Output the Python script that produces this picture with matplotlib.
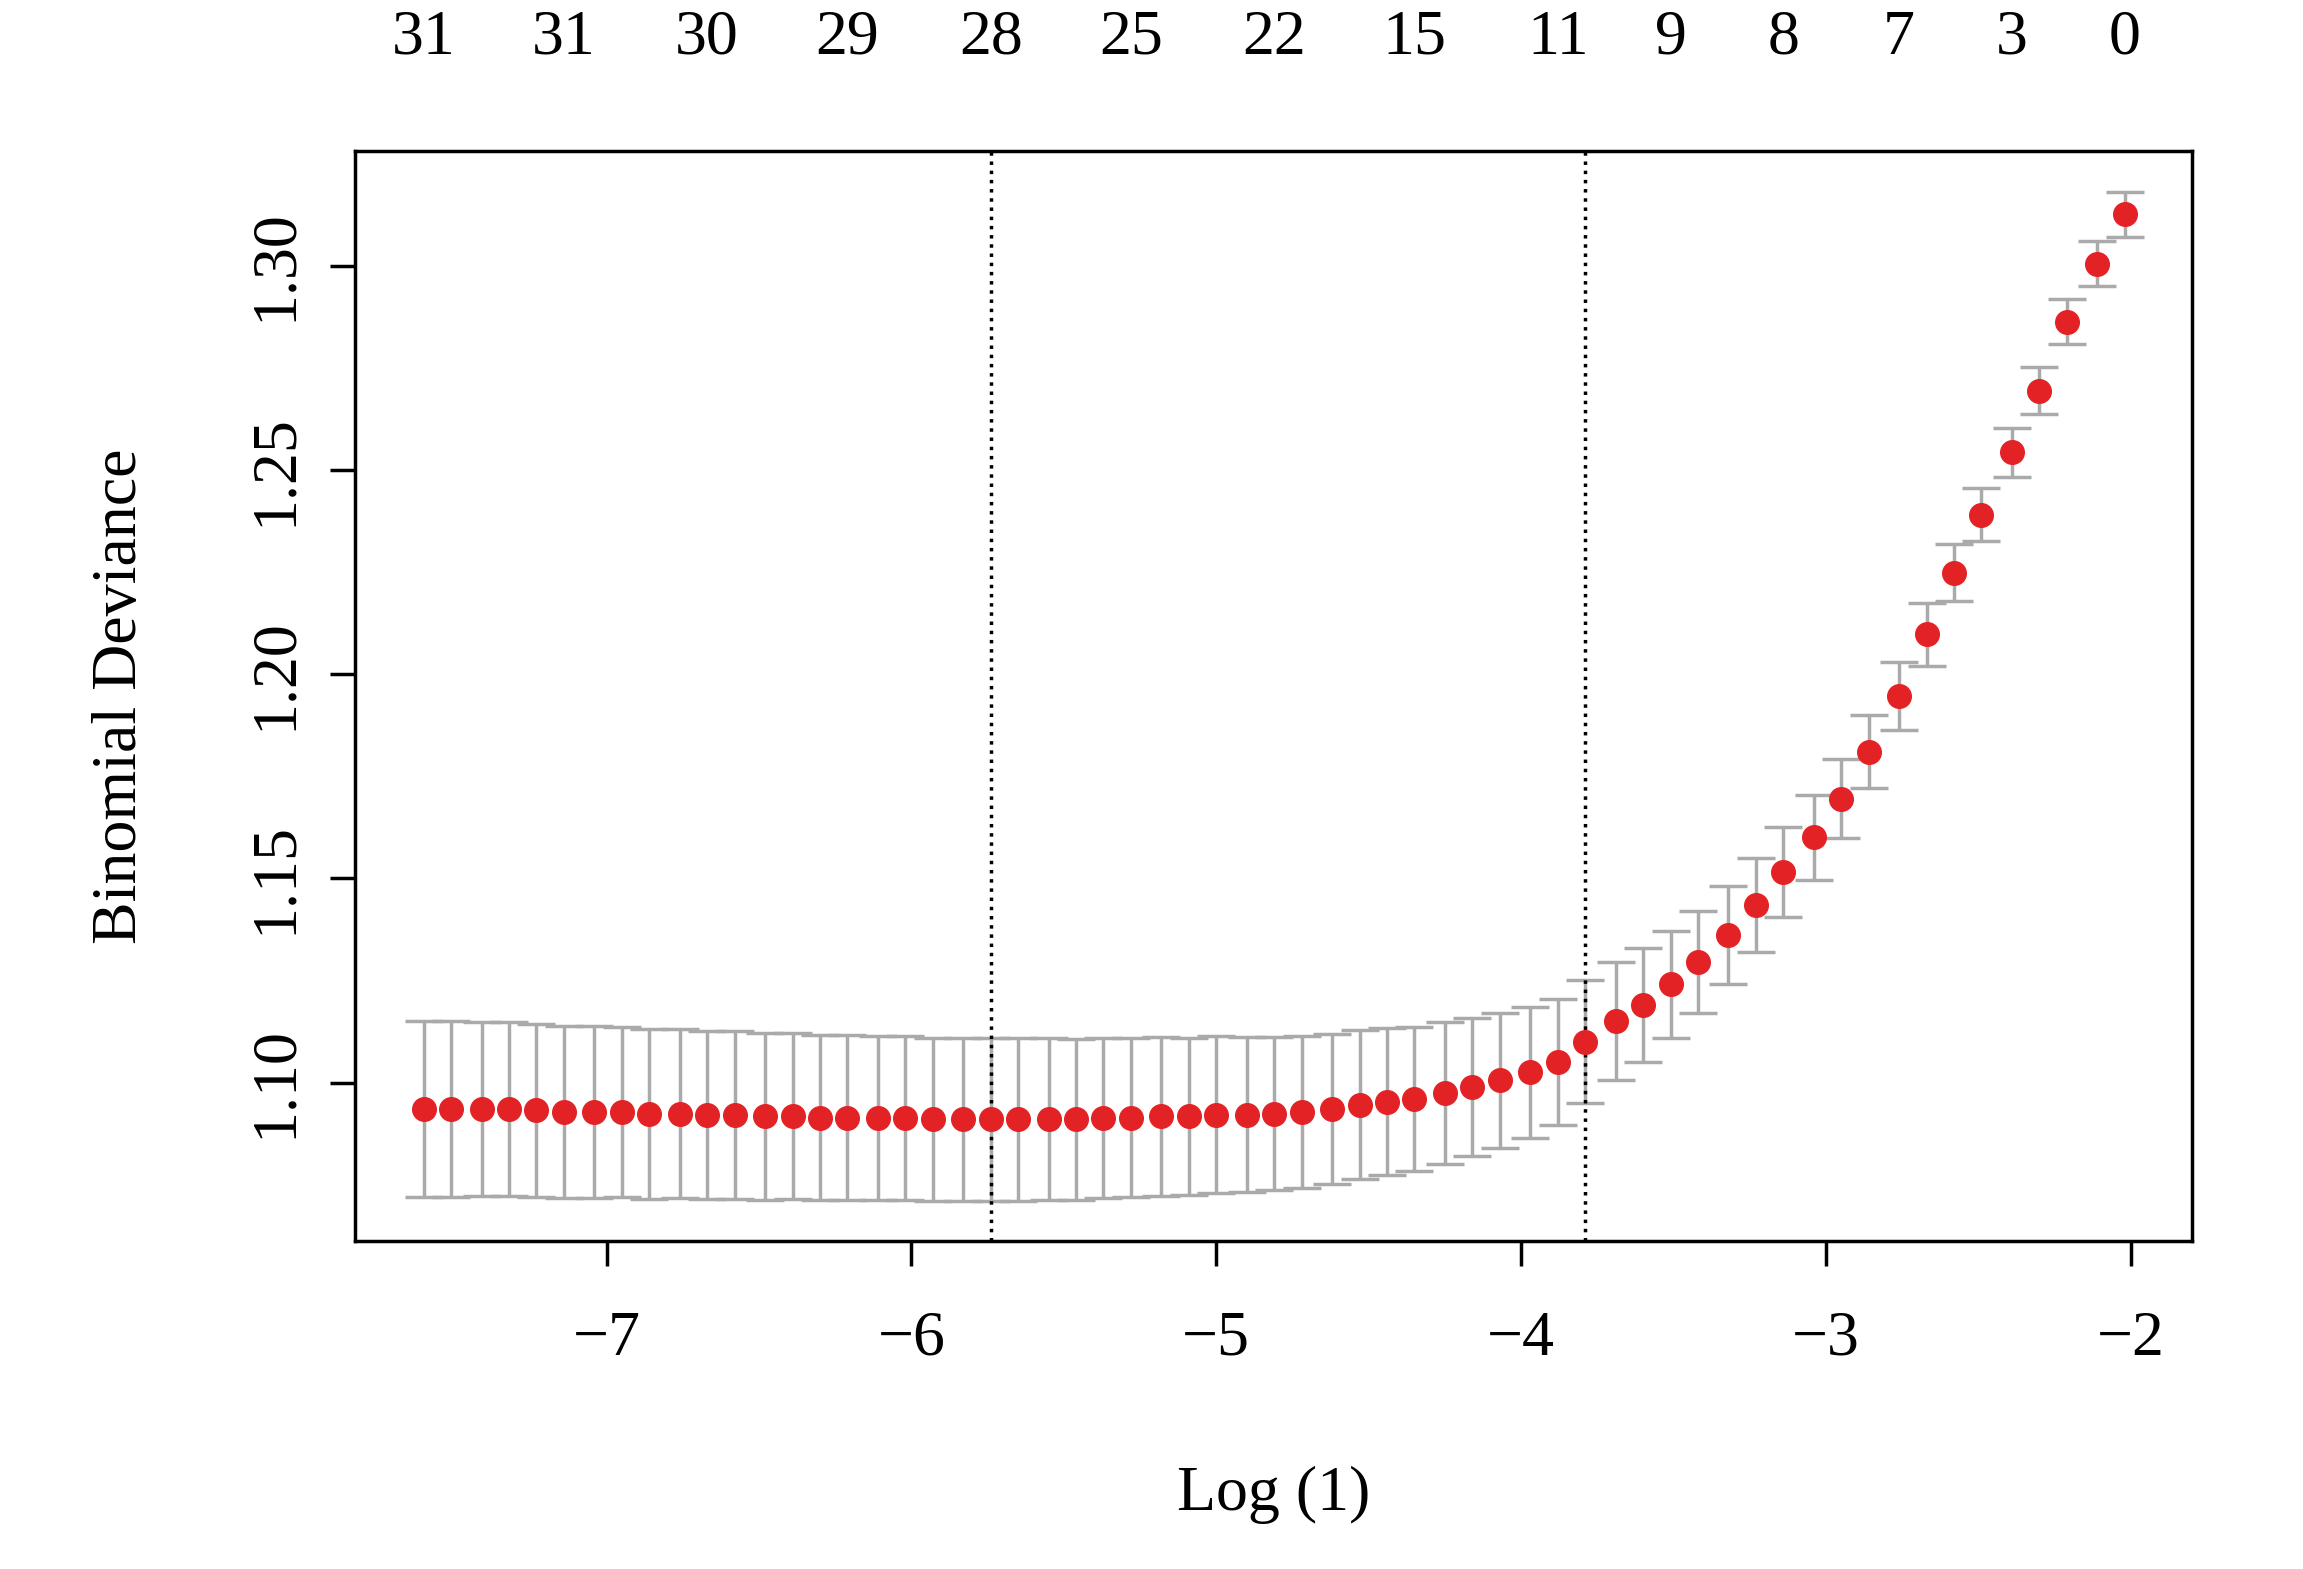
import matplotlib.pyplot as plt

plt.rcParams['font.family'] = ['Liberation Serif', 'DejaVu Serif']

log_lambda = [-7.60, -7.51, -7.41, -7.32, -7.23, -7.14, -7.04, -6.95, -6.86, -6.76,
              -6.67, -6.58, -6.48, -6.39, -6.30, -6.21, -6.11, -6.02, -5.93, -5.83,
              -5.74, -5.65, -5.55, -5.46, -5.37, -5.28, -5.18, -5.09, -5.00, -4.90,
              -4.81, -4.72, -4.62, -4.53, -4.44, -4.35, -4.25, -4.16, -4.07, -3.97,
              -3.88, -3.79, -3.69, -3.60, -3.51, -3.42, -3.32, -3.23, -3.14, -3.04,
              -2.95, -2.86, -2.76, -2.67, -2.58, -2.49, -2.39, -2.30, -2.21, -2.11, -2.02]
deviance = [1.0935, 1.0935, 1.0935, 1.0935, 1.0932, 1.0928, 1.0928, 1.0928, 1.0924, 1.0924,
            1.0921, 1.0921, 1.0917, 1.0917, 1.0914, 1.0914, 1.0914, 1.0914, 1.0910, 1.0910,
            1.0910, 1.0910, 1.0910, 1.0910, 1.0914, 1.0914, 1.0917, 1.0917, 1.0921, 1.0921,
            1.0924, 1.0928, 1.0935, 1.0946, 1.0953, 1.0960, 1.0975, 1.0989, 1.1005, 1.1025,
            1.1050, 1.1100, 1.1150, 1.1190, 1.1240, 1.1295, 1.1360, 1.1435, 1.1515, 1.1600,
            1.1695, 1.1810, 1.1946, 1.2097, 1.2248, 1.2390, 1.2543, 1.2694, 1.2863, 1.3005, 1.3126]
se = [0.0215, 0.0215, 0.0214, 0.0213, 0.0212, 0.0211, 0.0210, 0.0209, 0.0208, 0.0207,
      0.0206, 0.0205, 0.0204, 0.0203, 0.0202, 0.0202, 0.0201, 0.0201, 0.0200, 0.0200,
      0.0200, 0.0199, 0.0198, 0.0197, 0.0196, 0.0195, 0.0194, 0.0193, 0.0192, 0.0190,
      0.0188, 0.0186, 0.0184, 0.0182, 0.0180, 0.0177, 0.0174, 0.0170, 0.0165, 0.0160,
      0.0155, 0.0150, 0.0145, 0.0140, 0.0132, 0.0125, 0.0120, 0.0115, 0.0110, 0.0103,
      0.0097, 0.0090, 0.0083, 0.0077, 0.0070, 0.0065, 0.0060, 0.0057, 0.0055, 0.0055, 0.0055]
top_idx = [0, 5, 10, 15, 20, 25, 30, 35, 40, 44, 48, 52, 56, 60]
top_labels = ['31', '31', '30', '29', '28', '25', '22', '15', '11', '9', '8', '7', '3', '0']
vlines = [-5.74, -3.79]

fig = plt.figure(figsize=(23.03, 15.69), dpi=100)
ax = fig.add_axes([0.1543, 0.2088, 0.7977, 0.6948])

ax.errorbar(log_lambda, deviance, yerr=se, fmt='none', ecolor='#aaaaaa',
            elinewidth=2.5, capsize=14, capthick=2.5)
ax.plot(log_lambda, deviance, 'o', color='#e32226', markersize=17, zorder=3)
for v in vlines:
    ax.axvline(v, color='black', linestyle=':', linewidth=2.5)

ax.set_xlim(-7.824, -1.798)
ax.set_ylim(1.0611, 1.328)
ax.set_xticks([-7, -6, -5, -4, -3, -2])
ax.set_xticklabels(['\u22127', '\u22126', '\u22125', '\u22124', '\u22123', '\u22122'])
ax.set_yticks([1.10, 1.15, 1.20, 1.25, 1.30])
ax.set_yticklabels(['1.10', '1.15', '1.20', '1.25', '1.30'], rotation=90, va='center')
ax.tick_params(labelsize=46, width=2.5, length=18, pad=32)
ax.tick_params(axis='y', pad=18)
for s in ax.spines.values():
    s.set_linewidth(2.5)

top = ax.secondary_xaxis('top')
top.set_xticks([log_lambda[i] for i in top_idx])
top.set_xticklabels(top_labels)
top.tick_params(labelsize=46, length=0, pad=60)
top.spines['top'].set_visible(False)

ax.set_xlabel('Log (1)', fontsize=46, labelpad=70)
ax.set_ylabel('Binomial Deviance', fontsize=46, labelpad=70)

fig.savefig('out.png', dpi=100)
